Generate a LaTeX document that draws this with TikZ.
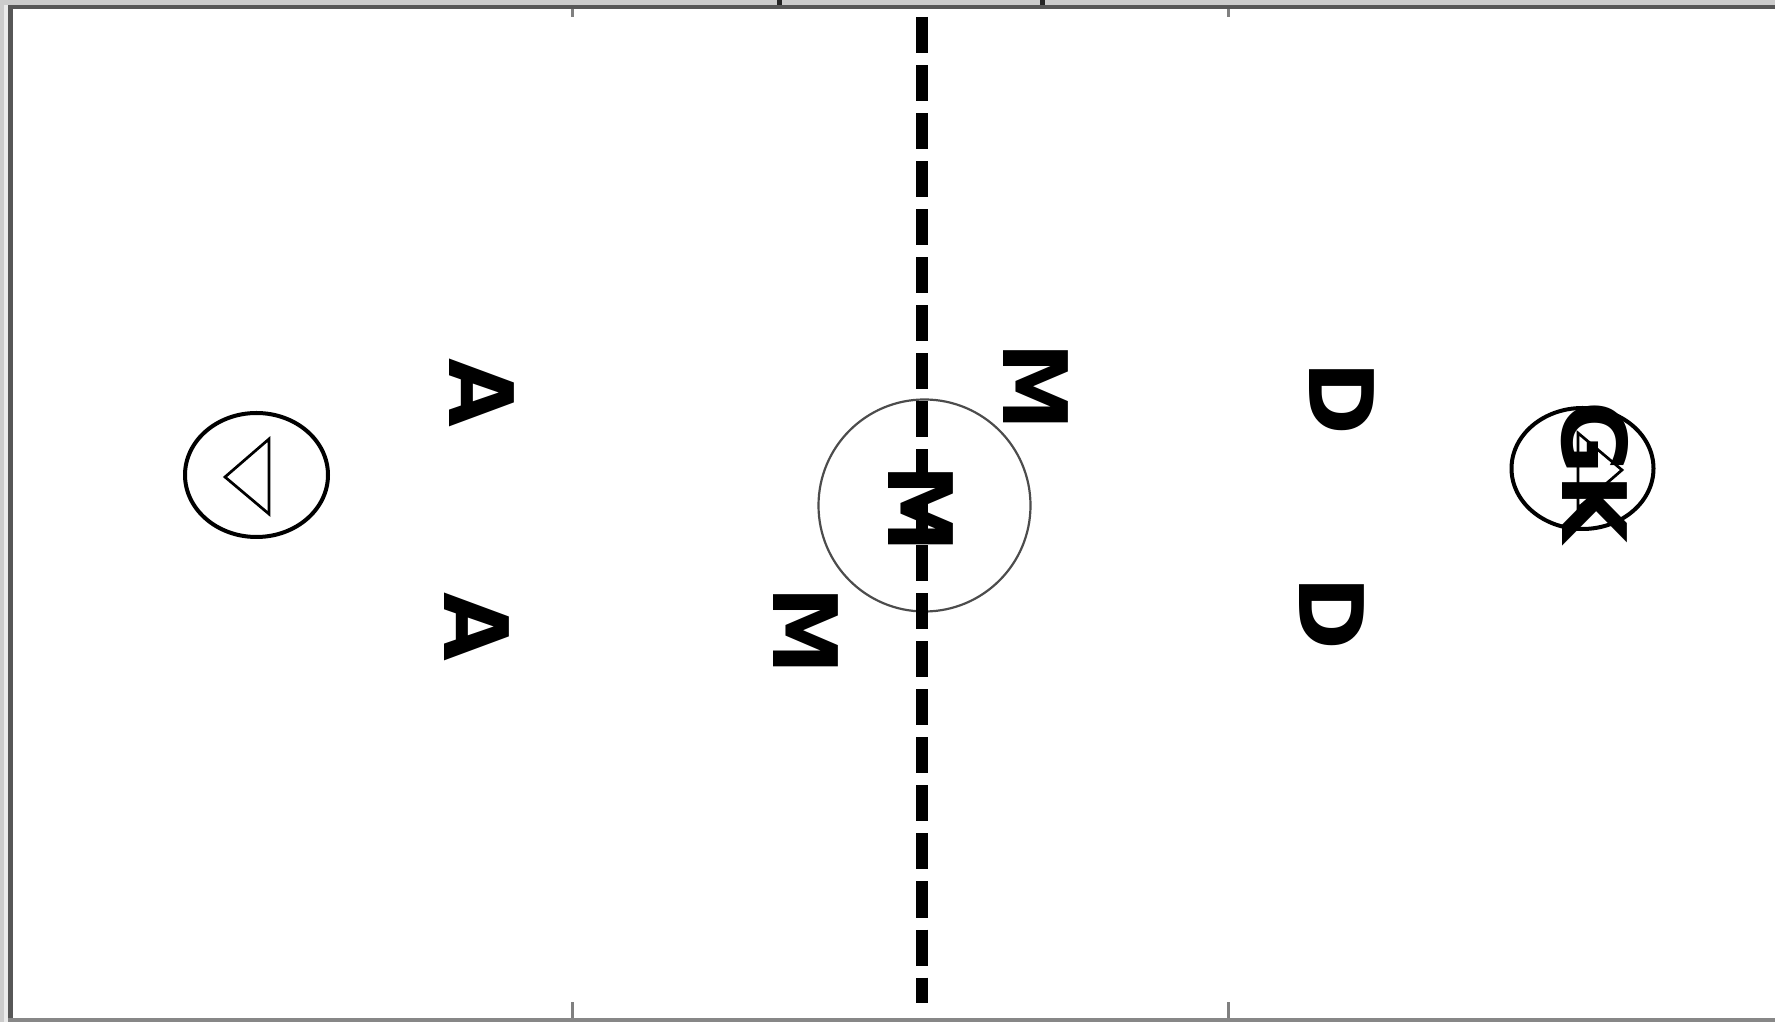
\documentclass[tikz,border=0pt]{standalone}
\usepackage{fontspec}
\setsansfont{DejaVu Sans}

\begin{document}
\begin{tikzpicture}[x=0.01cm,y=-0.01cm,
  player/.style={font=\sffamily\bfseries\fontsize{25.3}{30}\selectfont,inner sep=0pt,rotate=-90},
  goalring/.style={draw,line width=0.04cm},
  goalmark/.style={draw,line width=0.027cm,line join=miter}]
  \useasboundingbox (0,0) rectangle (1775,1022);
  \fill[black!20] (0,0) rectangle (1775,5);
  \fill[black!20] (0,0) rectangle (4,1022);
  \fill[black!8] (4,5) rectangle (8,1022);
  \fill[black!66] (8,5) rectangle (1775,9);
  \fill[black!66] (8,5) rectangle (13,1022);
  \fill[black!47] (8,1018) rectangle (1775,1022);
  \fill[black!50] (570.5,9) rectangle (573.5,17);
  \fill[black!50] (1226.5,9) rectangle (1229.5,17);
  \fill[black!50] (570.5,1002) rectangle (573.5,1018);
  \fill[black!50] (1226.5,1002) rectangle (1229.5,1018);
  \fill[black!85] (777,0) rectangle (782,5);
  \fill[black!85] (1040,0) rectangle (1045,5);
  \coordinate (linetop) at (922,17);
  \coordinate (linebottom) at (922,1003);
  \draw[black!70,line width=0.022cm] (924.5,505.5) circle [radius=106];
  \draw[line width=0.12cm,dash pattern=on 0.36cm off 0.12cm] (linetop) -- (linebottom);
  \draw[goalring] (256.5,475) ellipse [x radius=71.5,y radius=62];
  \draw[goalmark] (225,477) -- (269,439) -- (269,514) -- cycle;
  \draw[goalring] (1582.5,468.5) ellipse [x radius=71,y radius=60.5];
  \draw[goalmark] (1622,470) -- (1578,433) -- (1578,508) -- cycle;
  \node[player] (attackone) at (482,393) {A};
  \node[player] (attacktwo) at (477,627) {A};
  \node[player] (midone) at (1036,387) {M};
  \node[player] (midtwo) at (921,509) {M};
  \node[player] (midthree) at (806,631) {M};
  \node[player] (defone) at (1342,398) {D};
  \node[player] (deftwo) at (1332,613) {D};
  \node[player] (keeper) at (1595,472) {GK};
\end{tikzpicture}
\end{document}
